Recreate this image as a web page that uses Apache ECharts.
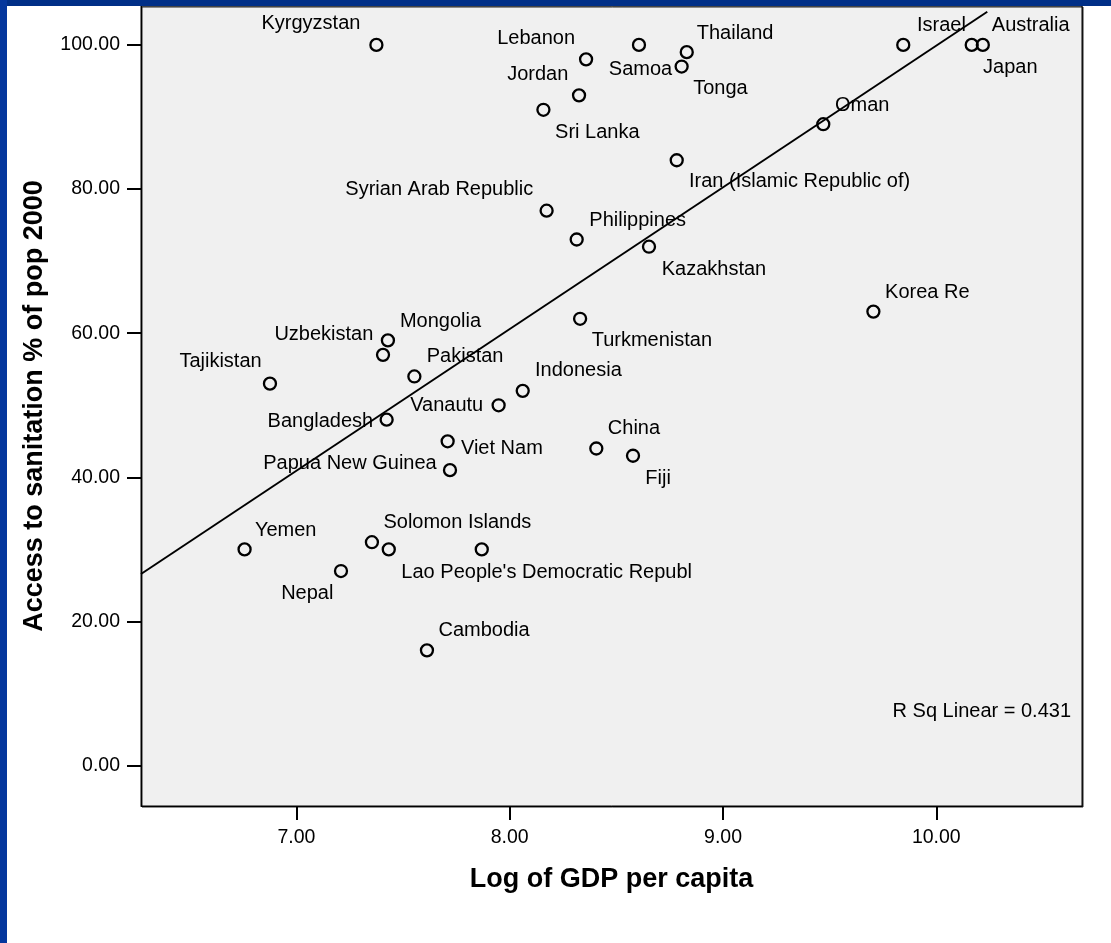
<!DOCTYPE html>
<html><head><meta charset="utf-8">
<script src="https://cdn.jsdelivr.net/npm/echarts@6/dist/echarts.min.js"></script>
<style>html,body{margin:0;padding:0;background:#fff;}#c{width:1111px;height:943px;}</style>
</head><body><div id="c"></div>
<script>
// ---- data ----
const countries = ["Kyrgyzstan","Lebanon","Samoa","Thailand","Tonga","Jordan","Sri Lanka",
  "Iran (Islamic Republic of)","Syrian Arab Republic","Philippines","Kazakhstan","Turkmenistan",
  "Korea Re","Israel","Japan","Australia","Oman","Mongolia","Uzbekistan","Tajikistan","Pakistan",
  "Indonesia","Vanautu","Bangladesh","Viet Nam","Papua New Guinea","China","Fiji","Yemen",
  "Solomon Islands","Lao People's Democratic Republ","","Nepal","Cambodia"];
const logGdp = [7.375,8.358,8.606,8.830,8.806,8.325,8.158,
  8.783,8.173,8.314,8.653,8.330,
  9.705,9.845,10.166,10.218,9.470,7.429,7.406,6.876,7.553,
  8.061,7.948,7.423,7.709,7.720,8.406,8.578,6.757,
  7.354,7.433,7.869,7.209,7.612];
const sanitation = [100,98,100,99,97,93,91,
  84,77,73,72,62,
  63,100,100,100,89,59,57,53,54,
  52,50,48,45,41,44,43,30,
  31,30,30,27,16];
const xTickValues = [7,8,9,10];
const yTickValues = [0,20,40,60,80,100];
const fitSlope = 19.66;
const fitIntercept = -96.7;
const fitXRange = [6.2714, 10.239];
const rSquared = 0.431;

// ---- label placement (align, dx, dy relative to point) ----
const labelPlacement = [
  ['right',-16,-21],['right',-11,-20.5],['center',1.5,24.5],['left',10,-18.5],['left',11.6,22.3],
  ['right',-10.7,-21],['left',11.7,22.6],['left',12.3,21.7],['right',-13.4,-21.5],['left',12.6,-19],
  ['left',12.7,22.7],['left',11.6,21.7],['left',11.7,-19],['left',13.7,-19.3],['left',11.3,23],
  ['left',9,-19.3],['left',11.7,-19],['left',12,-19.3],['right',-9.7,-20.7],['right',-8.3,-22],
  ['left',12.4,-19.6],['left',12.3,-20.7],['right',-15.4,0.7],['right',-13.4,1.7],['left',13.3,7],
  ['right',-13.3,-7],['left',11.5,-20.3],['left',12.3,22.6],['left',10.3,-19.3],['left',11.5,-19.4],
  ['left',12.6,22.7],['left',0,0],['right',-7.6,22],['left',11.5,-19.7]
];

const FONT = "'Liberation Sans', Arial, Helvetica, sans-serif";
const chart = echarts.init(document.getElementById('c'), null, {renderer:'canvas'});

const points = countries.map((name, i) => ({
  name: name,
  value: [logGdp[i], sanitation[i]],
  label: {
    show: name !== '',
    position: 'inside',
    align: labelPlacement[i][0],
    verticalAlign: 'middle',
    offset: [labelPlacement[i][1], labelPlacement[i][2]],
    color: '#000',
    textBorderWidth: 0
  }
}));

const fitLine = fitXRange.map(x => [x, fitIntercept + fitSlope * x]);

chart.setOption({
  animation: false,
  backgroundColor: '#ffffff',
  textStyle: { fontFamily: FONT },
  grid: {
    left: 141, top: 6, width: 941, height: 800,
    show: true, backgroundColor: '#f0f0f0', borderColor: '#000', borderWidth: 1,
    shadowColor: '#222', shadowOffsetX: 1, shadowOffsetY: 1, shadowBlur: 0
  },
  xAxis: {
    type: 'value', min: 6.2714, max: 10.683,
    splitLine: { show: false },
    axisLine: { show: true, onZero: false, lineStyle: { color: '#000', width: 1 } },
    axisTick: { show: true, length: 14, lineStyle: { color: '#000', width: 2 }, customValues: xTickValues },
    axisLabel: { color: '#000', fontSize: 19.5, fontFamily: FONT, margin: 22,
      customValues: xTickValues, formatter: v => v.toFixed(2) },
    name: 'Log of GDP per capita', nameLocation: 'middle', nameGap: 73.5,
    nameTextStyle: { color: '#000', fontSize: 27, fontWeight: 'bold', fontFamily: FONT, verticalAlign: 'middle' }
  },
  yAxis: {
    type: 'value', min: -5.6, max: 105.4,
    splitLine: { show: false },
    axisLine: { show: true, onZero: false, lineStyle: { color: '#000', width: 1 } },
    axisTick: { show: true, length: 14, lineStyle: { color: '#000', width: 2 }, customValues: yTickValues },
    axisLabel: { color: '#000', fontSize: 19.5, fontFamily: FONT, margin: 21,
      customValues: yTickValues, formatter: v => v.toFixed(2) },
    name: 'Access to sanitation % of pop 2000', nameLocation: 'middle', nameGap: 106,
    nameTextStyle: { color: '#000', fontSize: 27, fontWeight: 'bold', fontFamily: FONT, verticalAlign: 'middle' }
  },
  series: [
    {
      type: 'line', data: fitLine, symbol: 'none', silent: true, z: 3,
      lineStyle: { color: '#000', width: 2 }
    },
    {
      type: 'scatter', data: points, symbol: 'circle', symbolSize: 12, z: 4,
      itemStyle: { color: 'rgba(0,0,0,0)', borderColor: '#000', borderWidth: 2.3, opacity: 1 },
      label: { color: '#000', fontSize: 20, fontFamily: FONT, formatter: p => p.name }
    }
  ],
  graphic: [
    { type: 'rect', shape: { x: 0, y: 0, width: 1111, height: 6 }, style: { fill: '#002f87' }, z: 100 },
    { type: 'rect', shape: { x: 0, y: 0, width: 7, height: 943 }, style: { fill: '#04379d' }, z: 100 },
    { type: 'text', x: 1071, y: 711, z: 50,
      style: { text: 'R Sq Linear = ' + rSquared.toFixed(3), fill: '#000', font: '20px ' + FONT,
        textAlign: 'right', textVerticalAlign: 'middle' } }
  ]
});
</script>
</body></html>
